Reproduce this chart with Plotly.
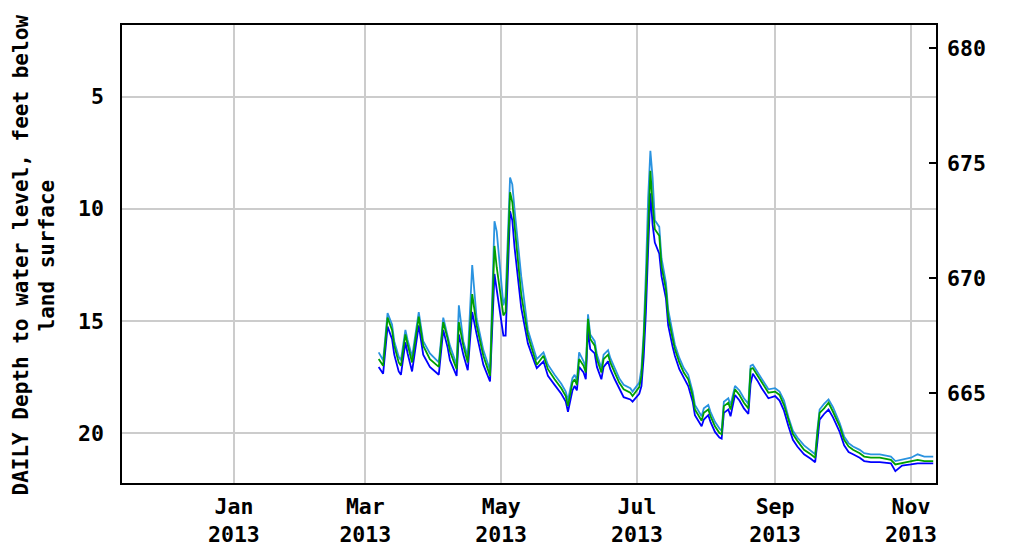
import plotly.graph_objects as go

dates = [
    "2013-03-07", "2013-03-09", "2013-03-11", "2013-03-13", "2013-03-14", "2013-03-16",
    "2013-03-17", "2013-03-19", "2013-03-20", "2013-03-22", "2013-03-25", "2013-03-26",
    "2013-03-27", "2013-03-30", "2013-04-03", "2013-04-05", "2013-04-07", "2013-04-08",
    "2013-04-11", "2013-04-12", "2013-04-14", "2013-04-16", "2013-04-18", "2013-04-20",
    "2013-04-23", "2013-04-26", "2013-04-28", "2013-04-29", "2013-05-02", "2013-05-03",
    "2013-05-05", "2013-05-06", "2013-05-07", "2013-05-10", "2013-05-13", "2013-05-16",
    "2013-05-17", "2013-05-20", "2013-05-22", "2013-05-25", "2013-05-28", "2013-05-30",
    "2013-05-31", "2013-06-02", "2013-06-03", "2013-06-04", "2013-06-05", "2013-06-07",
    "2013-06-08", "2013-06-09", "2013-06-10", "2013-06-12", "2013-06-13", "2013-06-15",
    "2013-06-16", "2013-06-18", "2013-06-19", "2013-06-21", "2013-06-23", "2013-06-25",
    "2013-06-28", "2013-06-29", "2013-07-02", "2013-07-03", "2013-07-04", "2013-07-05",
    "2013-07-06", "2013-07-07", "2013-07-08", "2013-07-09", "2013-07-11", "2013-07-12",
    "2013-07-14", "2013-07-15", "2013-07-17", "2013-07-18", "2013-07-20", "2013-07-22",
    "2013-07-24", "2013-07-26", "2013-07-27", "2013-07-30", "2013-07-31", "2013-08-02",
    "2013-08-03", "2013-08-05", "2013-08-07", "2013-08-08", "2013-08-09", "2013-08-11",
    "2013-08-12", "2013-08-14", "2013-08-16", "2013-08-18", "2013-08-20", "2013-08-21",
    "2013-08-22", "2013-08-24", "2013-08-26", "2013-08-29", "2013-09-01", "2013-09-03",
    "2013-09-05", "2013-09-07", "2013-09-09", "2013-09-11", "2013-09-14", "2013-09-17",
    "2013-09-19", "2013-09-20", "2013-09-21", "2013-09-23", "2013-09-25", "2013-09-27",
    "2013-09-30", "2013-10-02", "2013-10-04", "2013-10-06", "2013-10-09", "2013-10-11",
    "2013-10-14", "2013-10-18", "2013-10-23", "2013-10-25", "2013-10-28", "2013-11-01",
    "2013-11-04", "2013-11-07", "2013-11-11",
]

depth_min = [
    16.40, 16.75, 14.65, 15.15, 15.90, 16.60,
    16.75, 15.40, 15.85, 16.60, 14.60, 15.30,
    15.90, 16.45, 16.85, 14.85, 15.60, 16.10,
    16.95, 14.30, 15.90, 16.60, 12.50, 14.90,
    16.30, 17.20, 10.55, 11.00, 14.30, 13.90,
    8.60, 8.90, 10.00, 13.00, 15.40, 16.35,
    16.70, 16.40, 16.95, 17.40, 17.80, 18.15,
    18.55, 17.55, 17.40, 17.65, 16.40, 16.80,
    17.10, 14.70, 15.60, 15.90, 16.50, 17.10,
    16.50, 16.30, 16.65, 17.10, 17.55, 17.85,
    18.00, 18.15, 17.75, 17.10, 15.50, 12.80,
    9.50, 7.40, 8.60, 10.50, 10.80, 12.20,
    13.30, 14.50, 15.60, 16.05, 16.65, 17.10,
    17.40, 18.15, 18.75, 19.25, 18.90, 18.75,
    19.05, 19.50, 19.80, 19.90, 18.60, 18.45,
    18.75, 17.90, 18.10, 18.45, 18.70, 17.00,
    16.95, 17.25, 17.60, 18.05, 18.00, 18.15,
    18.55, 19.30, 19.90, 20.20, 20.55, 20.80,
    20.95, 19.85, 18.95, 18.70, 18.50, 18.85,
    19.55, 20.15, 20.45, 20.60, 20.75, 20.90,
    20.95, 20.95, 21.05, 21.25, 21.20, 21.10,
    20.95, 21.05, 21.05,
]

depth_mean = [
    16.70, 17.00, 14.85, 15.40, 16.10, 16.85,
    17.00, 15.60, 16.05, 16.85, 14.80, 15.50,
    16.10, 16.70, 17.05, 15.05, 15.80, 16.35,
    17.15, 15.05, 16.10, 16.85, 13.80, 15.20,
    16.55, 17.45, 11.65, 12.60, 14.75, 14.60,
    9.25, 9.70, 10.75, 13.80, 15.65, 16.55,
    16.95, 16.55, 17.15, 17.60, 18.00, 18.35,
    18.80, 17.75, 17.60, 17.85, 16.70, 17.00,
    17.30, 14.90, 15.80, 16.10, 16.70, 17.30,
    16.70, 16.50, 16.85, 17.30, 17.75, 18.05,
    18.20, 18.35, 17.95, 17.45, 15.85, 13.60,
    10.60, 8.30, 9.80, 10.90, 11.20, 12.55,
    13.60, 14.80, 15.80, 16.25, 16.85, 17.30,
    17.60, 18.35, 18.95, 19.45, 19.10, 18.95,
    19.25, 19.70, 20.00, 20.05, 18.80, 18.65,
    18.95, 18.05, 18.30, 18.65, 18.90, 17.15,
    17.10, 17.40, 17.75, 18.20, 18.15, 18.30,
    18.75, 19.45, 20.05, 20.35, 20.75, 20.95,
    21.10, 20.00, 19.10, 18.90, 18.65, 19.05,
    19.70, 20.30, 20.60, 20.75, 20.90, 21.05,
    21.10, 21.10, 21.20, 21.40, 21.35, 21.25,
    21.20, 21.25, 21.25,
]

depth_max = [
    17.05, 17.35, 15.25, 15.80, 16.50, 17.25,
    17.40, 15.95, 16.45, 17.25, 15.20, 15.85,
    16.50, 17.05, 17.40, 15.40, 16.20, 16.75,
    17.45, 15.60, 16.50, 17.20, 14.60, 15.60,
    16.95, 17.70, 12.90, 13.60, 15.65, 15.65,
    10.10, 10.50, 11.70, 14.40, 16.00, 16.85,
    17.10, 16.80, 17.45, 17.85, 18.25, 18.60,
    19.05, 18.10, 17.90, 18.10, 17.05, 17.30,
    17.60, 15.40, 16.25, 16.45, 17.05, 17.60,
    17.05, 16.80, 17.15, 17.60, 18.00, 18.40,
    18.50, 18.60, 18.25, 17.90, 16.60, 14.60,
    11.80, 9.30, 10.70, 11.50, 12.00, 13.00,
    14.00, 15.20, 16.15, 16.55, 17.15, 17.55,
    17.90, 18.60, 19.20, 19.70, 19.40, 19.20,
    19.50, 19.95, 20.20, 20.25, 19.10, 18.95,
    19.25, 18.30, 18.55, 18.90, 19.15, 17.80,
    17.35, 17.65, 18.00, 18.45, 18.35, 18.55,
    19.00, 19.70, 20.30, 20.60, 20.95, 21.15,
    21.30, 20.40, 19.40, 19.15, 18.95, 19.30,
    19.95, 20.55, 20.85, 20.95, 21.10, 21.25,
    21.30, 21.30, 21.35, 21.70, 21.45, 21.40,
    21.35, 21.35, 21.35,
]

x_tick_vals = ["2013-01-01", "2013-03-01", "2013-05-01", "2013-07-01", "2013-09-01", "2013-11-01"]
x_tick_text = ["Jan<br>2013", "Mar<br>2013", "May<br>2013", "Jul<br>2013", "Sep<br>2013", "Nov<br>2013"]
left_ticks = [5, 10, 15, 20]
right_ticks = [665, 670, 675, 680]
title_lines = ["DAILY Depth to water level, feet below", "land surface"]

FONT = dict(family="DejaVu Sans Mono", size=21.5, color="black", weight="bold")
TITLE_FONT = dict(family="DejaVu Sans Mono", size=21, color="black", weight="bold")

fig = go.Figure()
fig.add_trace(go.Scatter(x=dates, y=depth_max, mode="lines",
                         line=dict(color="#0000ff", width=1.8), hoverinfo="skip"))
fig.add_trace(go.Scatter(x=dates, y=depth_min, mode="lines",
                         line=dict(color="#2a93e0", width=1.8), hoverinfo="skip"))
fig.add_trace(go.Scatter(x=dates, y=depth_mean, mode="lines",
                         line=dict(color="#00a000", width=1.8), hoverinfo="skip"))
fig.add_trace(go.Scatter(x=[], y=[], yaxis="y2", mode="lines", hoverinfo="skip"))

title_x_px = [21, 47]
annotations = [
    dict(text=t, xref="paper", yref="paper", x=(px - 122) / 814, y=0.4967,
         xanchor="center", yanchor="middle", textangle=-90,
         showarrow=False, font=TITLE_FONT, borderpad=0)
    for t, px in zip(title_lines, title_x_px)
]

fig.update_layout(
    width=1001, height=540,
    margin=dict(l=114, r=73, t=17, b=65, autoexpand=False),
    paper_bgcolor="white", plot_bgcolor="white",
    showlegend=False,
    font=FONT,
    xaxis=dict(
        type="date", automargin=False,
        range=["2012-11-11 18:00", "2013-11-12 06:00"],
        tickvals=x_tick_vals, ticktext=x_tick_text,
        ticks="", showgrid=True, gridcolor="#cccccc", gridwidth=1.5,
        showline=True, linecolor="black", linewidth=1.5, mirror=True,
        zeroline=False, tickfont=FONT, ticklabelstandoff=3,
    ),
    yaxis=dict(
        automargin=False,
        range=[22.23, 1.79],
        tickvals=left_ticks,
        ticks="", showgrid=True, gridcolor="#cccccc", gridwidth=1.5,
        showline=True, linecolor="black", linewidth=1.5, mirror=True,
        zeroline=False, tickfont=FONT, ticklabelstandoff=12,
    ),
    yaxis2=dict(
        automargin=False,
        overlaying="y", side="right", anchor="x",
        range=[661.1, 681.0],
        tickvals=right_ticks,
        ticks="inside", ticklen=7, tickwidth=1.5, tickcolor="black",
        showgrid=False, zeroline=False, showline=False,
        tickfont=FONT, ticklabelstandoff=10,
    ),
    annotations=annotations,
)

fig.write_html("out.html")
